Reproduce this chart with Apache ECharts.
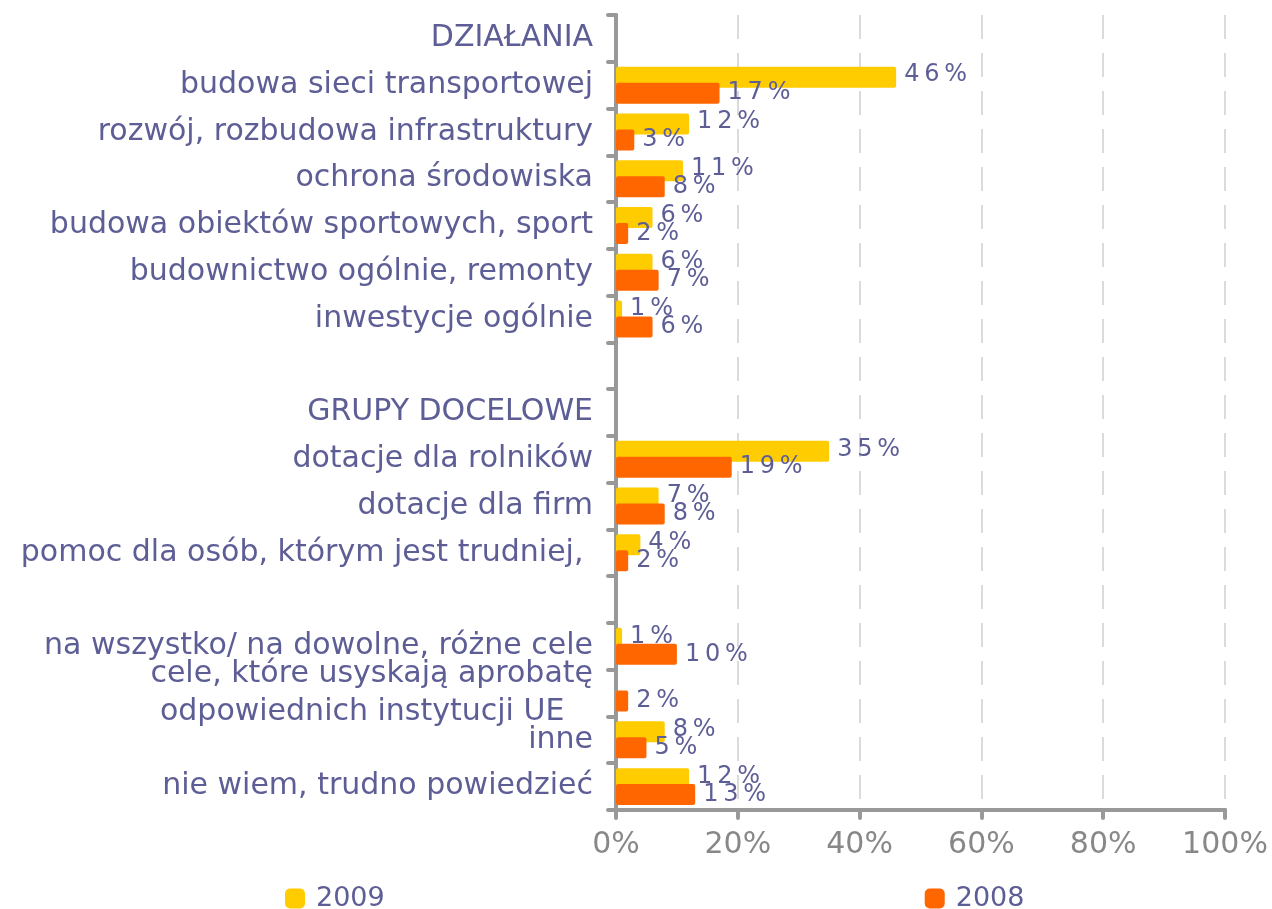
<!DOCTYPE html>
<html>
<head>
<meta charset="utf-8">
<script src="https://cdn.jsdelivr.net/npm/echarts@6/dist/echarts.min.js"></script>
<style>
html, body { margin: 0; padding: 0; background: #fff; }
#main { width: 1272px; height: 909px; }
</style>
</head>
<body>
<div id="main"></div>
<script>
var categories = [
    'DZIAŁANIA',
    'budowa sieci transportowej',
    'rozwój, rozbudowa infrastruktury',
    'ochrona środowiska',
    'budowa obiektów sportowych, sport',
    'budownictwo ogólnie, remonty',
    'inwestycje ogólnie',
    '',
    'GRUPY DOCELOWE',
    'dotacje dla rolników',
    'dotacje dla firm',
    'pomoc dla osób, którym jest trudniej, ',
    ' ',
    'na wszystko/ na dowolne, różne cele',
    'cele, które usyskają aprobatę\nodpowiednich instytucji UE   ',
    'inne',
    'nie wiem, trudno powiedzieć'
];
var values2009 = ['-', 46, 12, 11, 6, 6, 1, '-', '-', 35, 7, 4, '-', 1, '-', 8, 12];
var values2008 = ['-', 17, 3, 8, 2, 7, 6, '-', '-', 19, 8, 2, '-', 10, 2, 5, 13];
var xTicks = [0, 20, 40, 60, 80, 100];

var textColor = '#5e5e96';
var axisColor = '#999999';
var font = 'DejaVu Sans';

// Excel-like spaced labels: "4 6 %"
function spaced(p) {
    return (String(p.value) + '%').split('').join('\u2009');
}

var option = {
    animation: false,
    backgroundColor: '#ffffff',
    grid: {
        left: 616,
        right: 47,
        top: 15,
        bottom: 99
    },
    legend: {
        data: ['2009', '2008'],
        left: 280,
        top: 880,
        itemGap: 540,
        itemWidth: 20,
        itemHeight: 20,
        itemStyle: { borderRadius: 2 },
        textStyle: { color: textColor, fontSize: 27, fontFamily: font, padding: [0, 0, 0, 6] }
    },
    xAxis: [{
        type: 'value',
        min: xTicks[0],
        max: xTicks[xTicks.length - 1],
        interval: 20,
        axisLine: { show: true, lineStyle: { color: axisColor, width: 4, cap: 'round' } },
        axisTick: { show: true, length: 8, lineStyle: { color: axisColor, width: 4, cap: 'round' } },
        axisLabel: {
            margin: 20,
            color: '#888888',
            fontSize: 30,
            fontFamily: font,
            formatter: function (v) { return v + '%'; }
        },
        splitLine: {
            show: true,
            lineStyle: { color: '#d0d0d0', width: 1.5, type: [24, 14] }
        }
    }],
    yAxis: [{
        type: 'category',
        inverse: true,
        data: categories,
        axisLine: { show: true, lineStyle: { color: axisColor, width: 4, cap: 'round' } },
        axisTick: { show: true, length: 8, lineStyle: { color: axisColor, width: 4, cap: 'round' } },
        axisLabel: {
            interval: 0,
            margin: 23,
            color: textColor,
            fontSize: 30,
            lineHeight: 38,
            fontFamily: font
        },
        splitLine: { show: false }
    }],
    series: [{
        name: '2009',
        type: 'bar',
        data: values2009,
        barWidth: 21,
        barGap: '-24%',
        itemStyle: { color: '#ffcc00', borderRadius: 2 },
        label: {
            show: true,
            position: 'right',
            distance: 8,
            offset: [0, -2],
            color: textColor,
            fontSize: 24,
            fontFamily: font,
            formatter: spaced
        }
    }, {
        name: '2008',
        type: 'bar',
        data: values2008,
        barWidth: 21,
        barGap: '-24%',
        itemStyle: { color: '#ff6600', borderRadius: 2 },
        label: {
            show: true,
            position: 'right',
            distance: 8,
            color: textColor,
            fontSize: 24,
            fontFamily: font,
            formatter: spaced
        }
    }]
};

var chart = echarts.init(document.getElementById('main'));
chart.setOption(option);
</script>
</body>
</html>
